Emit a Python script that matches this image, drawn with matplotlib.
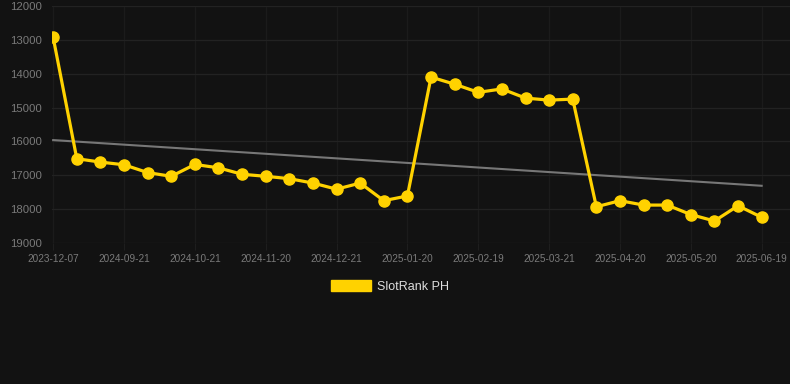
import numpy as np
from matplotlib import pyplot as plt
from matplotlib.patches import Patch

plt.rcParams['font.family'] = ['Liberation Sans', 'DejaVu Sans']

# x tick labels (every 3rd point)
tick_labels = ['2023-12-07', '2024-09-21', '2024-10-21', '2024-11-20', '2024-12-21',
               '2025-01-20', '2025-02-19', '2025-03-21', '2025-04-20', '2025-05-20',
               '2025-06-19']

# rank values, one per point
ranks = [12930, 16510, 16610, 16690, 16920, 17030, 16680, 16780, 16970, 17030,
         17100, 17230, 17410, 17230, 17750, 17610, 14100, 14310, 14550, 14450,
         14720, 14780, 14750, 17930, 17750, 17880, 17880, 18160, 18350, 17900,
         18240]

# trend line start / end
trend = [15960, 17310]

bg = '#121212'
yellow = '#FFD200'

x = np.arange(len(ranks))

fig = plt.figure(figsize=(7.9, 3.84), dpi=100, facecolor=bg)
ax = fig.add_axes([52/790, 1-243/384, 738/790, 237/384])
ax.set_facecolor(bg)

ax.plot([x[0], x[-1]], trend, color='#777777', linewidth=1.5, zorder=2)
ax.plot(x, ranks, color=yellow, linewidth=2.3, marker='o', markersize=8, zorder=3)

ax.set_ylim(19000, 12000)
ax.set_xlim(-0.05, 31.2)
ax.set_yticks(range(12000, 19001, 1000))
ax.set_xticks(x[::3])
ax.set_xticklabels(tick_labels)

ax.grid(True, axis='y', color='#222222', linewidth=0.9)
ax.grid(True, axis='x', color='#1b1b1b', linewidth=0.9)
for s in ax.spines.values():
    s.set_visible(False)
ax.tick_params(axis='y', length=0, colors='#7a7a7a', labelsize=8.2, pad=7)
ax.tick_params(axis='x', length=5, color='#1e1e1e', colors='#7a7a7a', labelsize=7.2, pad=3)
ax.tick_params(axis='x', labelcolor='#7a7a7a')

handle = Patch(facecolor=yellow, edgecolor=yellow)
fig.legend([handle], ['SlotRank PH'], loc='upper center', bbox_to_anchor=(0.494, 1-269/384),
           frameon=False, fontsize=9, labelcolor='#dddddd', handlelength=3.2,
           handleheight=0.9, handletextpad=0.5)

plt.savefig('out.png', dpi=100, facecolor=bg)
